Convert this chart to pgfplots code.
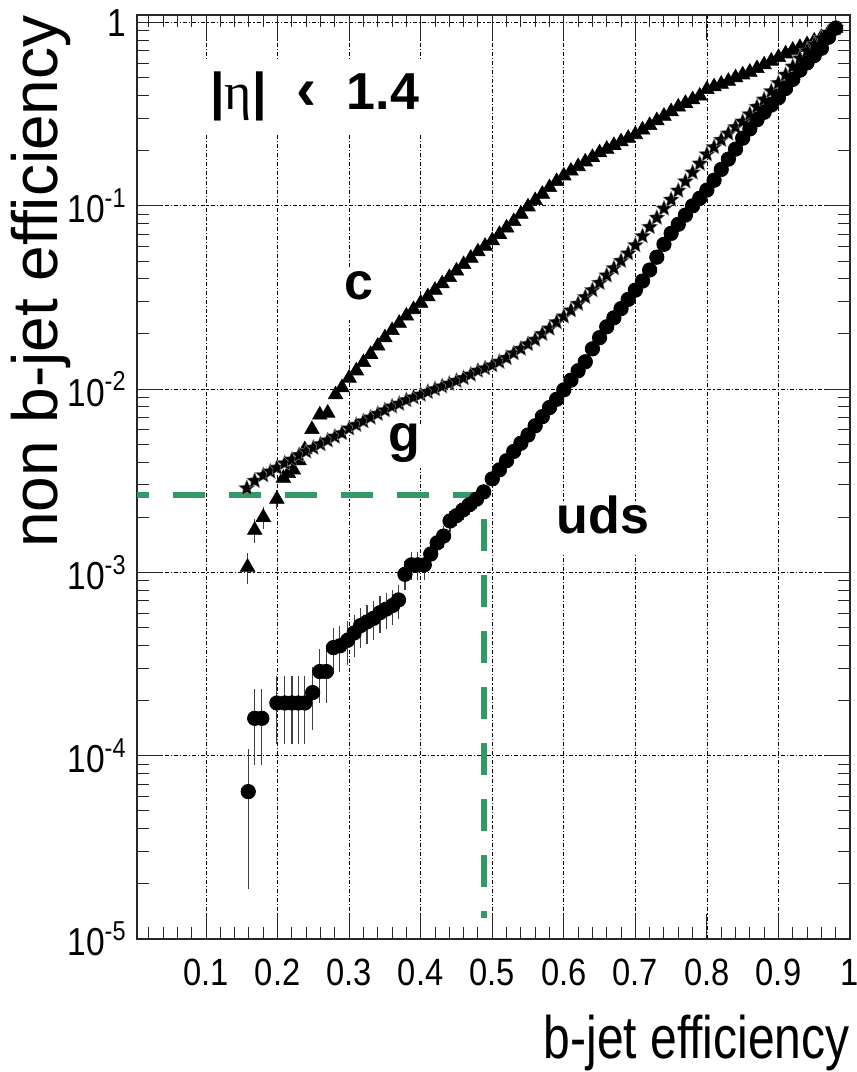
\documentclass[border=0pt]{standalone}
\usepackage{pgfplots}
\pgfplotsset{compat=1.18}
\usepackage{fontspec}
\setmainfont{Liberation Sans}
\newfontfamily\ticknarrow[FakeStretch=0.86]{Liberation Sans}
\newfontfamily\labnarrow[FakeStretch=0.8]{Liberation Sans}
\newfontfamily\greekfont{Liberation Serif}
\definecolor{cutgreen}{RGB}{51,153,102}

% filled five-pointed star marker
\pgfdeclareplotmark{fstar}{%
  \pgfpathmoveto{\pgfpointpolar{90}{\pgfplotmarksize}}%
  \pgfpathlineto{\pgfpointpolar{126}{0.45\pgfplotmarksize}}%
  \pgfpathlineto{\pgfpointpolar{162}{\pgfplotmarksize}}%
  \pgfpathlineto{\pgfpointpolar{198}{0.45\pgfplotmarksize}}%
  \pgfpathlineto{\pgfpointpolar{234}{\pgfplotmarksize}}%
  \pgfpathlineto{\pgfpointpolar{270}{0.45\pgfplotmarksize}}%
  \pgfpathlineto{\pgfpointpolar{306}{\pgfplotmarksize}}%
  \pgfpathlineto{\pgfpointpolar{342}{0.45\pgfplotmarksize}}%
  \pgfpathlineto{\pgfpointpolar{18}{\pgfplotmarksize}}%
  \pgfpathlineto{\pgfpointpolar{54}{0.45\pgfplotmarksize}}%
  \pgfpathclose
  \pgfusepathqfillstroke}

\begin{document}
\begin{tikzpicture}
\begin{axis}[
  name=ax,
  width=356.5pt, height=462pt, scale only axis,
  xmin=0.0035, xmax=1,
  ymode=log, ymin=1e-5, ymax=1.1,
  xtick={0.1,0.2,0.3,0.4,0.5,0.6,0.7,0.8,0.9,1},
  xticklabels={0.1,0.2,0.3,0.4,0.5,0.6,0.7,0.8,0.9,1},
  minor xtick={0.02,0.04,...,0.99},
  yticklabel={\pgfmathtruncatemacro{\ex}{round(\tick/ln(10))}\ifnum\ex=0 1\else 10\textsuperscript{\ex}\fi},
  xticklabel style={font=\ticknarrow\fontsize{19}{19}\selectfont, inner sep=0pt, yshift=-10pt},
  yticklabel style={font=\ticknarrow\fontsize{19.5}{19.5}\selectfont, inner sep=0pt, xshift=-5pt},
  tick align=inside,
  major tick length=12.5pt, minor tick length=6pt,
  tick style={black!85, line width=0.5pt},
  axis line style={black!85, line width=0.6pt},
  grid=major,
  major grid style={black, line width=0.4pt, dash pattern=on 2pt off 1pt on 0.6pt off 1pt},
  xlabel={b-jet efficiency},
  ylabel={non b-jet efficiency},
  xlabel style={at={(rel axis cs:1,-0.1288)}, anchor=base east, inner sep=0pt,
    font=\labnarrow\fontsize{30}{30}\selectfont},
  ylabel style={at={(rel axis cs:-0.112,1)}, anchor=base east, inner sep=0pt,
    font=\fontsize{32}{32}\selectfont},
  error bars/y dir=both, error bars/y explicit,
  error bars/error mark=none,
  error bars/error bar style={black!75, line width=0.6pt},
  clip=false,
]

% c-jets (triangles)
\addplot[only marks, mark=triangle*, mark size=4.2pt,
  mark options={fill=black, draw=black, line width=0.3pt}] coordinates {
  (0.158,1.07e-3) +- (0,2.1e-4)
  (0.168,1.70e-3) +- (0,2.5e-4)
  (0.180,2.00e-3) +- (0,2.7e-4)
  (0.199,2.51e-3) +- (0,3.0e-4)
  (0.208,3.27e-3) (0.215,3.47e-3) (0.222,3.63e-3) (0.230,4.07e-3)
  (0.238,4.68e-3) (0.248,6.03e-3) (0.259,7.24e-3) (0.270,7.41e-3)
  (0.281,9.33e-3) (0.290,1.02e-2) (0.300,1.15e-2) (0.310,1.26e-2)
  (0.320,1.40e-2) (0.330,1.55e-2) (0.340,1.72e-2) (0.350,1.91e-2)
  (0.360,2.09e-2) (0.370,2.29e-2) (0.380,2.51e-2) (0.390,2.72e-2)
  (0.400,2.95e-2) (0.410,3.20e-2) (0.420,3.47e-2) (0.430,3.76e-2)
  (0.440,4.07e-2) (0.450,4.42e-2) (0.460,4.79e-2) (0.470,5.19e-2)
  (0.480,5.62e-2) (0.490,6.03e-2) (0.500,6.46e-2) (0.510,7.00e-2)
  (0.520,7.59e-2) (0.530,8.22e-2) (0.540,9.02e-2) (0.550,9.89e-2)
  (0.560,0.107) (0.570,0.116) (0.580,0.126) (0.590,0.136)
  (0.600,0.146) (0.610,0.155) (0.620,0.164) (0.630,0.174)
  (0.640,0.184) (0.650,0.195) (0.660,0.204) (0.670,0.214)
  (0.680,0.224) (0.690,0.234) (0.700,0.245) (0.710,0.260)
  (0.720,0.275) (0.730,0.292) (0.740,0.309) (0.750,0.327)
  (0.760,0.347) (0.770,0.363) (0.780,0.380) (0.790,0.398)
  (0.800,0.432) (0.810,0.447) (0.820,0.462) (0.830,0.479)
  (0.840,0.501) (0.850,0.519) (0.860,0.537) (0.870,0.562)
  (0.880,0.589) (0.890,0.617) (0.900,0.646) (0.910,0.676)
  (0.920,0.708) (0.930,0.733) (0.940,0.759) (0.950,0.794)
  (0.960,0.832) (0.970,0.881) (0.980,0.933)
};

% gluon jets (stars)
\addplot[only marks, mark=fstar, mark size=4.2pt,
  mark options={fill=black, draw=white!55!black, line width=0.2pt}] coordinates {
  (0.157,2.88e-3) (0.168,3.16e-3) (0.180,3.39e-3) (0.190,3.55e-3)
  (0.199,3.72e-3) (0.210,3.94e-3) (0.220,4.12e-3) (0.230,4.37e-3)
  (0.240,4.57e-3) (0.250,4.79e-3) (0.260,5.01e-3) (0.270,5.25e-3)
  (0.280,5.50e-3) (0.290,5.75e-3) (0.300,6.10e-3) (0.310,6.38e-3)
  (0.320,6.68e-3) (0.330,7.00e-3) (0.340,7.33e-3) (0.350,7.67e-3)
  (0.360,8.04e-3) (0.370,8.32e-3) (0.380,8.71e-3) (0.390,9.02e-3)
  (0.400,9.33e-3) (0.410,9.66e-3) (0.420,1.00e-2) (0.430,1.035e-2)
  (0.440,1.07e-2) (0.450,1.11e-2) (0.460,1.15e-2) (0.470,1.20e-2)
  (0.480,1.26e-2) (0.490,1.30e-2) (0.500,1.35e-2) (0.510,1.41e-2)
  (0.520,1.48e-2) (0.530,1.57e-2) (0.540,1.66e-2) (0.550,1.76e-2)
  (0.560,1.86e-2) (0.570,2.00e-2) (0.580,2.14e-2) (0.590,2.32e-2)
  (0.600,2.49e-2) (0.610,2.69e-2) (0.620,2.92e-2) (0.630,3.18e-2)
  (0.640,3.47e-2) (0.650,3.80e-2) (0.660,4.17e-2) (0.670,4.57e-2)
  (0.680,5.01e-2) (0.690,5.50e-2) (0.700,6.10e-2) (0.710,6.84e-2)
  (0.720,7.67e-2) (0.730,8.61e-2) (0.740,9.66e-2) (0.750,0.108)
  (0.760,0.121) (0.770,0.136) (0.780,0.152) (0.790,0.170)
  (0.800,0.191) (0.810,0.209) (0.820,0.229) (0.830,0.248)
  (0.840,0.269) (0.850,0.288) (0.860,0.316) (0.870,0.347)
  (0.880,0.380) (0.890,0.422) (0.900,0.468) (0.910,0.519)
  (0.920,0.575) (0.930,0.638) (0.940,0.700) (0.950,0.759)
  (0.960,0.822) (0.970,0.881) (0.980,0.933)
};

% uds jets (circles), low-statistics part with error bars
\addplot[only marks, mark=*, mark size=3.6pt,
  mark options={fill=black, draw=black}] coordinates {
  (0.159,6.37e-5) +- (0,4.5e-5)
  (0.168,1.60e-4) +- (0,7.1e-5)
  (0.178,1.60e-4) +- (0,7.1e-5)
  (0.199,1.94e-4) +- (0,7.8e-5)
  (0.210,1.94e-4) +- (0,7.8e-5)
  (0.220,1.94e-4) +- (0,7.8e-5)
  (0.229,1.94e-4) +- (0,7.8e-5)
  (0.238,1.94e-4) +- (0,7.8e-5)
  (0.249,2.21e-4) +- (0,8.3e-5)
  (0.259,2.88e-4) +- (0,9.5e-5)
  (0.268,2.88e-4) +- (0,9.5e-5)
  (0.278,3.89e-4) +- (0,1.10e-4)
  (0.287,3.98e-4) +- (0,1.12e-4)
  (0.298,4.27e-4) +- (0,1.16e-4)
  (0.307,4.68e-4) +- (0,1.21e-4)
  (0.316,5.13e-4) +- (0,1.27e-4)
  (0.325,5.37e-4) +- (0,1.30e-4)
  (0.334,5.62e-4) +- (0,1.33e-4)
  (0.343,6.03e-4) +- (0,1.38e-4)
  (0.352,6.31e-4) +- (0,1.41e-4)
  (0.361,6.61e-4) +- (0,1.44e-4)
  (0.369,7.08e-4) +- (0,1.49e-4)
  (0.378,9.77e-4) +- (0,1.75e-4)
  (0.387,1.10e-3) +- (0,1.86e-4)
  (0.396,1.10e-3) +- (0,1.86e-4)
  (0.405,1.10e-3) +- (0,1.86e-4)
  (0.414,1.26e-3) +- (0,1.99e-4)
  (0.423,1.45e-3) +- (0,2.13e-4)
  (0.432,1.58e-3) +- (0,2.23e-4)
  (0.441,1.91e-3) +- (0,2.45e-4)
  (0.450,2.04e-3) +- (0,2.53e-4)
  (0.459,2.19e-3) +- (0,2.62e-4)
  (0.468,2.34e-3) +- (0,2.71e-4)
  (0.478,2.51e-3) +- (0,2.81e-4)
  (0.488,2.75e-3) +- (0,2.94e-4)
};
% uds jets, high-efficiency part
\addplot[only marks, mark=*, mark size=3.6pt,
  mark options={fill=black, draw=black}, error bars/y dir=none] coordinates {
  (0.500,3.24e-3) (0.510,3.63e-3) (0.520,4.07e-3) (0.530,4.57e-3)
  (0.540,5.07e-3) (0.550,5.62e-3) (0.560,6.31e-3) (0.570,7.08e-3)
  (0.580,7.94e-3) (0.590,8.81e-3) (0.600,9.91e-3) (0.610,1.12e-2)
  (0.620,1.26e-2) (0.630,1.41e-2) (0.640,1.66e-2) (0.650,1.91e-2)
  (0.660,2.19e-2) (0.670,2.45e-2) (0.680,2.75e-2) (0.690,3.09e-2)
  (0.700,3.47e-2) (0.710,3.89e-2) (0.720,4.47e-2) (0.730,5.25e-2)
  (0.740,6.17e-2) (0.750,7.08e-2) (0.760,7.94e-2) (0.770,8.91e-2)
  (0.780,0.100) (0.790,0.110) (0.800,0.122) (0.810,0.138)
  (0.820,0.158) (0.830,0.180) (0.840,0.204) (0.850,0.234)
  (0.860,0.263) (0.870,0.295) (0.880,0.324) (0.890,0.355)
  (0.900,0.389) (0.910,0.437) (0.920,0.490) (0.930,0.550)
  (0.940,0.603) (0.950,0.661) (0.960,0.724) (0.970,0.832)
  (0.980,0.933)
};

% working point
\addplot[cutgreen, line width=3pt, dash pattern=on 16pt off 12pt, dash phase=10pt,
  line join=miter, no markers, error bars/y dir=none] coordinates {
  (0.0035,2.66e-3) (0.489,2.66e-3) (0.489,1.3e-5)
};

\node[anchor=base west, fill=white, inner xsep=6pt, inner ysep=6pt,
  font=\bfseries\fontsize{26}{26}\selectfont]
  at (axis cs:0.0888,0.334)
  {|{\mdseries\greekfont η}|\hspace{15pt}{\fontsize{30}{30}\selectfont ‹}\hspace{15pt}1.4};
\node[anchor=base, fill=white, text height=0.75em, text depth=0.2em, inner sep=8pt,
  font=\bfseries\fontsize{26}{26}\selectfont] at (axis cs:0.314,0.0307) {c};
\node[anchor=base, fill=white, text height=0.75em, text depth=0.2em, inner sep=6pt,
  font=\bfseries\fontsize{26}{26}\selectfont] at (axis cs:0.3776,4.55e-3) {g};
\node[anchor=base, fill=white, text height=0.75em, text depth=0.2em, inner sep=8pt,
  font=\bfseries\fontsize{26}{26}\selectfont] at (axis cs:0.6545,1.64e-3) {uds};
\end{axis}
\pgfresetboundingbox
\path ([xshift=-68.5pt,yshift=-66.5pt]ax.south west) rectangle ([xshift=3.5pt,yshift=7.5pt]ax.north east);
\end{tikzpicture}
\end{document}
